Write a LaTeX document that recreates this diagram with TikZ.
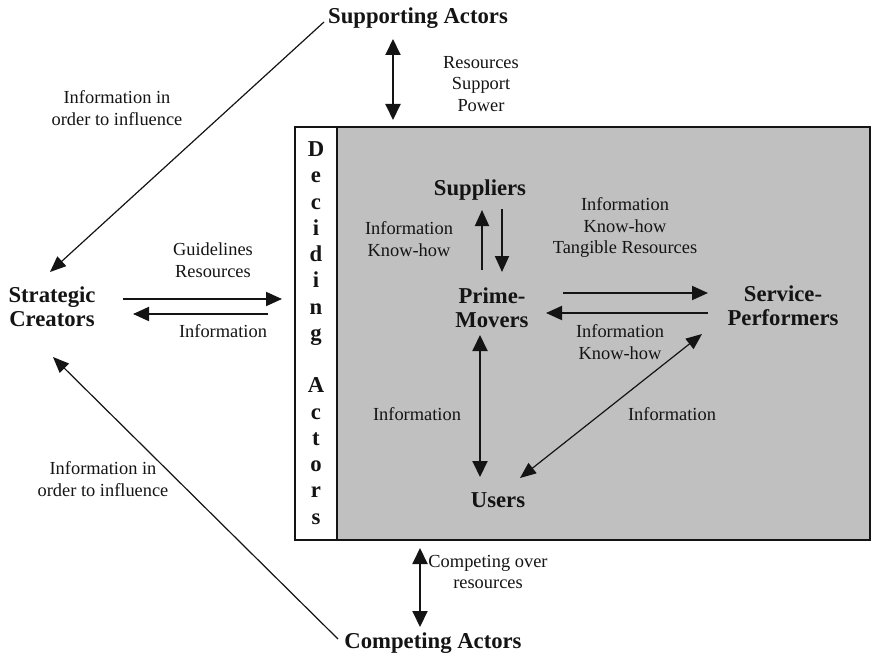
\documentclass[tikz,border=0pt]{standalone}
\usepackage{fontspec}
\setmainfont{Liberation Serif}
\usetikzlibrary{arrows.meta}
\definecolor{panelgray}{RGB}{192,192,192}
\definecolor{inkc}{RGB}{20,20,20}
\begin{document}
\begin{tikzpicture}[x=0.5pt,y=-0.5pt,
  lab/.style={font=\fontsize{9.2}{10.75}\selectfont, align=center, inner sep=0pt, text=inkc},
  actor/.style={font=\bfseries\fontsize{11.35}{12}\selectfont, align=center, inner sep=0pt, text=inkc},
  arr/.style={draw=inkc, line width=0.95pt, -{Triangle[length=8pt,width=7pt]}},
  darr/.style={draw=inkc, line width=0.95pt, {Triangle[length=8pt,width=7.5pt]}-{Triangle[length=8pt,width=7.5pt]}},
  tarr/.style={draw=inkc, line width=0.6pt, -{Triangle[length=8pt,width=6.5pt]}},
  tdarr/.style={draw=inkc, line width=0.6pt, {Triangle[length=8pt,width=6.5pt]}-{Triangle[length=8pt,width=6.5pt]}}]
\useasboundingbox (0,0) rectangle (872,658);
% panel
\fill[panelgray] (337,127) rectangle (870,540);
\draw[draw=inkc, line width=1.1pt] (295,127) rectangle (870,540);
\draw[draw=inkc, line width=0.8pt] (337,127) -- (337,540);
% deciding actors column
\node[font=\bfseries\fontsize{11.35}{13.13}\selectfont, align=center, inner sep=0pt, text=inkc] (decide) at (316,333)
  {D\\e\\c\\i\\d\\i\\n\\g\\\strut\\A\\c\\t\\o\\r\\s};
% actors
\node[actor] (sup) at (418,18) {Supporting Actors};
\node[actor] (comp) at (433,643) {Competing Actors};
\node[actor] (strat) at (52,307) {Strategic\\Creators};
\node[actor] (suppl) at (480,190) {Suppliers};
\node[actor] (prime) at (492,308) {Prime-\\Movers};
\node[actor] (serv) at (783,306) {Service-\\Performers};
\node[actor] (users) at (498,500) {Users};
% labels
\node[lab] (lres) at (481,84) {Resources\\Support\\Power};
\node[lab] (lsp) at (409,239) {Information\\Know-how};
\node[lab] (lps) at (625,228) {Information\\Know-how\\Tangible Resources};
\node[lab] (lsv) at (620,342) {Information\\Know-how};
\node[lab] (lpu) at (417,414) {Information};
\node[lab] (lsu) at (672,414) {Information};
\node[lab] (lgr) at (213,260) {Guidelines\\Resources};
\node[lab] (linf) at (223,331) {Information};
\node[lab] (ltop) at (117,108) {Information in\\order to influence};
\node[lab] (lbot) at (103,479) {Information in\\order to influence};
\node[lab] (lcomp) at (488,572) {Competing over\\resources};
% connector end points
\coordinate (supA) at (393,39);
\coordinate (supB) at (393,120);
\coordinate (compA) at (420,548);
\coordinate (compB) at (420,627);
\coordinate (su1) at (482,270);
\coordinate (su2) at (482,210);
\coordinate (su3) at (502,209);
\coordinate (su4) at (502,272);
\coordinate (ps1) at (563,293);
\coordinate (ps2) at (708,293);
\coordinate (ps3) at (708,313);
\coordinate (ps4) at (546,313);
\coordinate (pu1) at (480,335);
\coordinate (pu2) at (480,477);
\coordinate (su5) at (702,334);
\coordinate (us1) at (520,478);
\coordinate (sd1) at (123,299);
\coordinate (sd2) at (282,299);
\coordinate (sd3) at (268,314);
\coordinate (sd4) at (133,314);
\coordinate (sup0) at (324,22);
\coordinate (str1) at (50,272);
\coordinate (comp0) at (338,639);
\coordinate (str2) at (53,357);
% connectors
\draw[darr] (supA) -- (supB);
\draw[darr] (compA) -- (compB);
\draw[arr] (su1) -- (su2);
\draw[arr] (su3) -- (su4);
\draw[arr] (ps1) -- (ps2);
\draw[arr] (ps3) -- (ps4);
\draw[darr] (pu1) -- (pu2);
\draw[tdarr] (su5) -- (us1);
\draw[arr] (sd1) -- (sd2);
\draw[arr] (sd3) -- (sd4);
\draw[tarr] (sup0) -- (str1);
\draw[tarr] (comp0) -- (str2);
\end{tikzpicture}
\end{document}
